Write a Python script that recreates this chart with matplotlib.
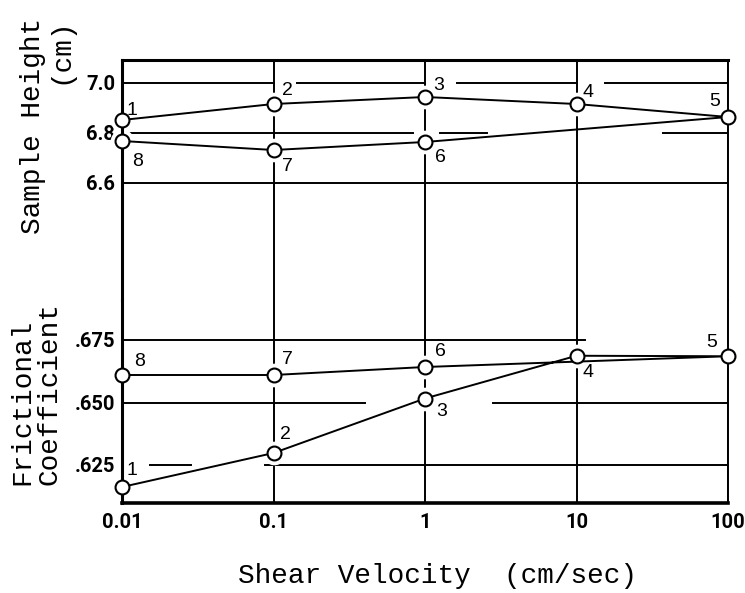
import matplotlib
matplotlib.use('Agg')
import matplotlib.pyplot as plt
from matplotlib.ticker import NullLocator, FixedLocator

# run order 1..8: up the velocity scale, then back down
velocity = [0.01, 0.1, 1, 10, 100, 1, 0.1, 0.01]
height = [6.852, 6.916, 6.944, 6.916, 6.864, 6.764, 6.732, 6.768]
friction = [0.6162, 0.6298, 0.6516, 0.6687, 0.6685, 0.6642, 0.661, 0.661]
run_labels = ['1', '2', '3', '4', '5', '6', '7', '8']

x_ticks = [0.01, 0.1, 1, 10, 100]
x_ticklabels = ['0.01', '0.1', '1', '10', '100']
h_ticks = [6.6, 6.8, 7.0]
h_ticklabels = ['6.6', '6.8', '7.0']
f_ticks = [0.625, 0.650, 0.675]
f_ticklabels = ['.625', '.650', '.675']

# label offsets (points) for the run numbers
h_off = [(7, 6.5), (10, 10), (9.5, 8.5), (8.5, 8), (-9.5, 11), (11, -11.5), (10, -12), (11, -15)]
f_off = [(7, 12), (8.5, 13), (12, -9.5), (8.5, -12), (-11.5, 10), (11, 11), (10, 11), (13, 9.5)]

# the hand-drawn grid is broken in places: (y, [(x0, x1), ...])
h_grid = [(7.0, [(0.01, 0.1), (0.143, 1.0), (1.63, 10), (15.4, 100)]),
          (6.8, [(0.01, 0.83), (1.26, 2.56), (37.2, 100)]),
          (6.6, [(0.01, 100)])]
f_grid = [(0.675, [(0.01, 11.4)]),
          (0.650, [(0.01, 0.40), (2.81, 100)]),
          (0.625, [(0.0153, 0.0285), (0.0879, 100)])]

tick_font = dict(family=['Roboto', 'DejaVu Sans'], weight='bold', size=14.5)
mono = ['Liberation Mono', 'DejaVu Sans Mono']
LW = 1.4

W, H = 745, 593
fig = plt.figure(figsize=(W / 100, H / 100), dpi=100)
left, right = 122 / W, 728 / W
ax_h = fig.add_axes([left, 1 - 300 / H, right - left, 240 / H])
ax_f = fig.add_axes([left, 1 - 503 / H, right - left, 203 / H], sharex=ax_h)

for ax, grid in ((ax_h, h_grid), (ax_f, f_grid)):
    ax.set_xscale('log')
    ax.set_xlim(0.01, 100)
    ax.xaxis.set_major_locator(FixedLocator(x_ticks))
    ax.xaxis.set_minor_locator(NullLocator())
    ax.grid(True, axis='x', color='black', lw=LW)
    ax.tick_params(length=0, pad=5)
    ax.spines['right'].set_linewidth(LW)
    for yv, segs in grid:
        for x0, x1 in segs:
            ax.plot([x0, x1], [yv, yv], color='black', lw=LW, zorder=1.5)

ax_h.set_ylim(6.132, 7.092)
ax_h.set_yticks(h_ticks)
ax_h.set_yticklabels(h_ticklabels, **tick_font)
ax_h.spines['bottom'].set_visible(False)
ax_h.spines['top'].set_linewidth(2.2)
ax_h.spines['left'].set_linewidth(2.2)
ax_h.tick_params(axis='x', labelbottom=False)

ax_f.set_ylim(0.6098, 0.691)
ax_f.set_yticks(f_ticks)
ax_f.set_yticklabels(f_ticklabels, **tick_font)
ax_f.spines['top'].set_visible(False)
ax_f.spines['bottom'].set_linewidth(2.6)
ax_f.spines['left'].set_linewidth(2.2)
ax_f.set_xticklabels(x_ticklabels, **tick_font)
ax_f.tick_params(axis='x', pad=7)

for ax, vals, offs in ((ax_h, height, h_off), (ax_f, friction, f_off)):
    # white halo so the grid breaks around each point
    ax.plot(velocity, vals, 'o', ms=17, mfc='white', mec='none', clip_on=False, zorder=2)
    ax.plot(velocity, vals, '-o', color='black', lw=LW, ms=10, mfc='white',
            mec='black', mew=1.5, clip_on=False, zorder=3)
    for xv, yv, lab, off in zip(velocity, vals, run_labels, offs):
        ax.annotate(lab, (xv, yv), xytext=off, textcoords='offset points',
                    ha='center', va='center', fontsize=14, family='Liberation Sans',
                    bbox=dict(fc='white', ec='none', pad=2), zorder=2.5)

fig.text(47 / W, 1 - 126 / H, 'Sample Height\n(cm)', rotation=90, ha='center', va='center',
         multialignment='right', family=mono, fontsize=20, linespacing=1.05)
fig.text(36 / W, 1 - 394 / H, 'Frictional\nCoefficient', rotation=90, ha='center', va='center',
         multialignment='left', family=mono, fontsize=20, linespacing=1.05)
fig.text(437 / W, 1 - 576 / H, 'Shear Velocity  (cm/sec)', ha='center', va='center',
         family=mono, fontsize=20)

fig.savefig('out.png', dpi=100, facecolor='white')
